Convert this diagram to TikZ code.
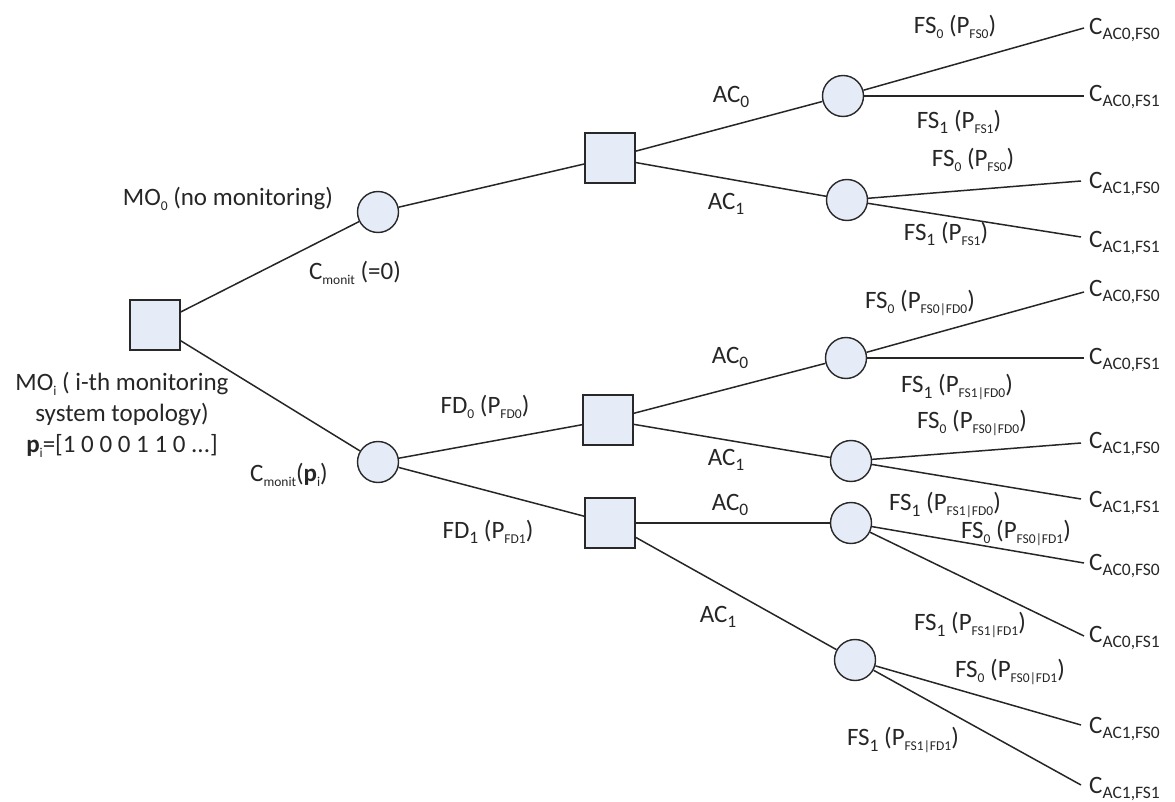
\documentclass[tikz,border=0pt]{standalone}
\usepackage{fontspec}
\setmainfont{Carlito}
% lowered small text for indices
\newcommand\sbs[1]{\raisebox{-0.22em}{\fontsize{17.5}{17.5}\selectfont #1}}
\newcommand\ssb[1]{\raisebox{-0.2em}{\fontsize{13.5}{13.5}\selectfont #1}}
\definecolor{boxfill}{RGB}{230,236,247}
\definecolor{edgegray}{RGB}{40,40,40}
\tikzset{
  decision/.style={draw=edgegray, fill=boxfill, line width=1.6pt, minimum size=50pt, inner sep=0pt},
  chance/.style={circle, draw=edgegray, fill=boxfill, line width=1.4pt, minimum size=41pt, inner sep=0pt},
  lbl/.style={font=\fontsize{25}{31}\selectfont, inner sep=0pt, text=black!85},
  leaf/.style={lbl, anchor=west, inner sep=0pt},
  branch/.style={line width=1.5pt, draw=black!85},
}
\begin{document}
\begin{tikzpicture}[x=1pt,y=-1pt]
\useasboundingbox (0,0) rectangle (1175,802);

% decision and chance nodes
\node[decision] (R) at (155,325) {};
\node[chance] (c0) at (378,212) {};
\node[chance] (ci) at (378,462) {};
\node[decision] (s0) at (610,158) {};
\node[decision] (sA) at (608,420) {};
\node[decision] (sB) at (610,523) {};
\node[chance] (u0) at (843,96) {};
\node[chance] (u1) at (847,200) {};
\node[chance] (a0) at (846,358) {};
\node[chance] (a1) at (851,461) {};
\node[chance] (b0) at (851,523) {};
\node[chance] (b1) at (855,660) {};

% outcome costs
\coordinate (e1) at (1084,28);  \node[leaf] (l1) at (1089,30) {C\sbs{AC0,FS0}};
\coordinate (e2) at (1084,96);  \node[leaf] (l2) at (1089,97) {C\sbs{AC0,FS1}};
\coordinate (e3) at (1081,181); \node[leaf] (l3) at (1089,184) {C\sbs{AC1,FS0}};
\coordinate (e4) at (1081,237); \node[leaf] (l4) at (1089,243) {C\sbs{AC1,FS1}};
\coordinate (e5) at (1084,292); \node[leaf] (l5) at (1089,292) {C\sbs{AC0,FS0}};
\coordinate (e6) at (1084,358); \node[leaf] (l6) at (1089,360) {C\sbs{AC0,FS1}};
\coordinate (e7) at (1081,443); \node[leaf] (l7) at (1089,444) {C\sbs{AC1,FS0}};
\coordinate (e8) at (1081,499); \node[leaf] (l8) at (1089,503) {C\sbs{AC1,FS1}};
\coordinate (e9) at (1084,563); \node[leaf] (l9) at (1089,566) {C\sbs{AC0,FS0}};
\coordinate (e10) at (1084,636); \node[leaf] (l10) at (1089,638) {C\sbs{AC0,FS1}};
\coordinate (e11) at (1081,725); \node[leaf] (l11) at (1089,729) {C\sbs{AC1,FS0}};
\coordinate (e12) at (1081,785); \node[leaf] (l12) at (1089,789) {C\sbs{AC1,FS1}};

% branches
\draw[branch] (R) -- (c0);
\draw[branch] (R) -- (ci);
\draw[branch] (c0) -- (s0);
\draw[branch] (ci) -- (sA);
\draw[branch] (ci) -- (sB);
\draw[branch] (s0) -- (u0);
\draw[branch] (s0) -- (u1);
\draw[branch] (sA) -- (a0);
\draw[branch] (sA) -- (a1);
\draw[branch] (sB) -- (b0);
\draw[branch] (sB) -- (b1);
\draw[branch] (u0) -- (e1);
\draw[branch] (u0) -- (e2);
\draw[branch] (u1) -- (e3);
\draw[branch] (u1) -- (e4);
\draw[branch] (a0) -- (e5);
\draw[branch] (a0) -- (e6);
\draw[branch] (a1) -- (e7);
\draw[branch] (a1) -- (e8);
\draw[branch] (b0) -- (e9);
\draw[branch] (b0) -- (e10);
\draw[branch] (b1) -- (e11);
\draw[branch] (b1) -- (e12);

% branch labels
\node[lbl] (tMO0) at (228,199) {MO\ssb{0} (no monitoring)};
\node[lbl] (tC0) at (355,273) {C\ssb{monit} (=0)};
\node[lbl, align=center] (tMOi) at (122,415) {MO\ssb{i} ( i-th monitoring\\system topology)\\\textbf{p}\ssb{i}=[1 0 0 0 1 1 0 ...]};
\node[lbl] (tCi) at (289,475) {C\ssb{monit}(\textbf{p}\ssb{i})};
\node[lbl] (tFD0) at (485,407) {FD\ssb{0} (P\ssb{FD0})};
\node[lbl] (tFD1) at (488,532) {FD\sbs{1} (P\ssb{FD1})};

\node[lbl] (tu0) at (731,97) {AC\sbs{0}};
\node[lbl] (tu1) at (726,204) {AC\sbs{1}};
\node[lbl] (ta0) at (730,358) {AC\sbs{0}};
\node[lbl] (ta1) at (726,460) {AC\sbs{1}};
\node[lbl] (tb0) at (730,505) {AC\sbs{0}};
\node[lbl] (tb1) at (718,617) {AC\sbs{1}};

\node[lbl] (f1) at (955,27) {FS\ssb{0} (P\ssb{FS0})};
\node[lbl] (f2) at (959,122) {FS\sbs{1} (P\ssb{FS1})};
\node[lbl] (f3) at (973,160) {FS\ssb{0} (P\ssb{FS0})};
\node[lbl] (f4) at (946,234) {FS\sbs{1} (P\ssb{FS1})};
\node[lbl] (f5) at (920,303) {FS\ssb{0} (P\ssb{FS0|FD0})};
\node[lbl] (f6) at (957,387) {FS\sbs{1} (P\ssb{FS1|FD0})};
\node[lbl] (f7) at (972,423) {FS\ssb{0} (P\ssb{FS0|FD0})};
\node[lbl] (f8) at (945,505) {FS\sbs{1} (P\ssb{FS1|FD0})};
\node[lbl] (f9) at (1016,533) {FS\ssb{0} (P\ssb{FS0|FD1})};
\node[lbl] (f10) at (970,625) {FS\sbs{1} (P\ssb{FS1|FD1})};
\node[lbl] (f11) at (1010,672) {FS\ssb{0} (P\ssb{FS0|FD1})};
\node[lbl] (f12) at (903,740) {FS\sbs{1} (P\ssb{FS1|FD1})};
\end{tikzpicture}
\end{document}
